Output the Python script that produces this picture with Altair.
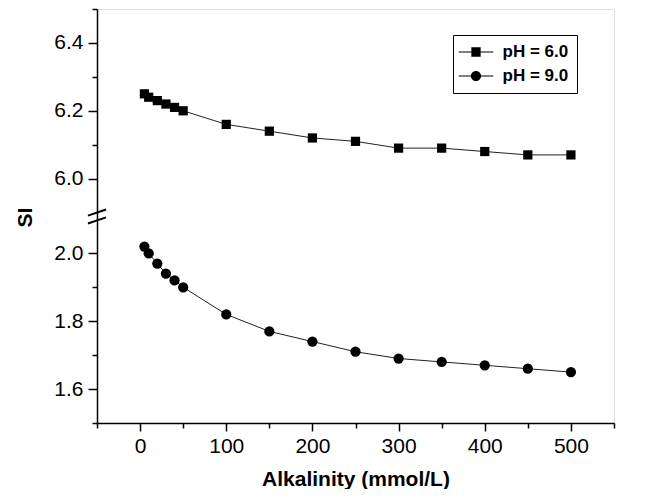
import altair as alt
import pandas as pd

# ---- data ----
alkalinity = [5, 10, 20, 30, 40, 50, 100, 150, 200, 250, 300, 350, 400, 450, 500]
si_ph6 = [6.25, 6.24, 6.23, 6.22, 6.21, 6.20, 6.16, 6.14, 6.12, 6.11, 6.09, 6.09, 6.08, 6.07, 6.07]
si_ph9 = [2.02, 2.00, 1.97, 1.94, 1.92, 1.90, 1.82, 1.77, 1.74, 1.71, 1.69, 1.68, 1.67, 1.66, 1.65]
series_names = ["pH = 6.0", "pH = 9.0"]

# broken axis: upper segment 5.9–6.5 is shifted down to sit just above 1.5–2.1
SHIFT = 3.78
x_major = [0, 100, 200, 300, 400, 500]
x_minor = [-50, 50, 150, 250, 350, 450, 550]
y_major_lower = [1.6, 1.8, 2.0]
y_major_upper = [6.0, 6.2, 6.4]
y_minor_lower = [1.5, 1.7, 1.9]
y_minor_upper = [6.1, 6.3, 6.5]

y_major = y_major_lower + [round(v - SHIFT, 4) for v in y_major_upper]
y_minor = y_minor_lower + [round(v - SHIFT, 4) for v in y_minor_upper]

rows = []
for a, v in zip(alkalinity, si_ph6):
    rows.append({"alk": a, "SI": v, "series": series_names[0]})
for a, v in zip(alkalinity, si_ph9):
    rows.append({"alk": a, "SI": v, "series": series_names[1]})
df = pd.DataFrame(rows)

# break marks ("//") on the y axis, in data units
break_df = pd.DataFrame({
    "x1": [-60.5, -60.5], "x2": [-39.5, -39.5],
    "y1": [2.111, 2.088], "y2": [2.129, 2.106],
})

FONT = "Liberation Sans"
xscale = alt.Scale(domain=[-50, 550], nice=False, zero=False)
yscale = alt.Scale(domain=[1.5, 2.72], nice=False, zero=False)

label_expr = ("datum.value > 2.11 ? format(datum.value + %s, '.1f') : format(datum.value, '.1f')" % SHIFT)

x_major_axis = alt.Axis(orient="bottom", values=x_major, tickSize=8, tickWidth=1.5, domainWidth=1.5,
                        domainColor="black", tickColor="black", labelFont=FONT,
                        labelFontSize=21, labelColor="black", labelPadding=4,
                        grid=False, title="Alkalinity (mmol/L)", titleFont=FONT,
                        titleFontSize=21, titleFontWeight="bold", titleColor="black",
                        titleY=56, titleBaseline="middle", labelFlush=False)
y_major_axis = alt.Axis(orient="left", values=y_major, tickSize=9, tickWidth=1.5, domainWidth=1.5,
                        domainColor="black", tickColor="black", labelFont=FONT,
                        labelFontSize=21, labelColor="black", labelPadding=5,
                        labelExpr=label_expr, grid=False, title="SI", titleFont=FONT,
                        titleFontSize=21, titleFontWeight="bold", titleColor="black",
                        titleX=-72, titleY=208, titleBaseline="middle", titleAngle=270,
                        labelFlush=False)
x_minor_axis = alt.Axis(orient="bottom", values=x_minor, tickSize=5, tickWidth=1.5, domain=False,
                        tickColor="black", labels=False, grid=False, title=None)
y_minor_axis = alt.Axis(orient="left", values=y_minor, tickSize=5, tickWidth=1.5, domain=False,
                        tickColor="black", labels=False, grid=False, title=None)

base = alt.Chart(df).transform_calculate(
    yp="datum.SI > 4 ? datum.SI - %s : datum.SI" % SHIFT
)

line = base.mark_line(color="#222222", strokeWidth=1).encode(
    x=alt.X("alk:Q", scale=xscale, axis=x_major_axis),
    y=alt.Y("yp:Q", scale=yscale, axis=y_major_axis),
    detail="series:N",
)

points = base.mark_point(filled=True, opacity=1, color="black").encode(
    x=alt.X("alk:Q", scale=xscale, axis=None),
    y=alt.Y("yp:Q", scale=yscale, axis=None),
    shape=alt.Shape("series:N", scale=alt.Scale(domain=series_names, range=["square", "circle"]), legend=None),
    size=alt.Size("series:N", scale=alt.Scale(domain=series_names, range=[85, 105]), legend=None),
)

# legend symbols "—■—" / "—●—" built only from filled shapes
seg = "M-2.3,-0.07H-0.62V0.07H-2.3ZM0.62,-0.07H2.3V0.07H0.62Z"
sq_path = seg + "M-0.62,-0.62H0.62V0.62H-0.62Z"
ci_path = seg + "M0.68,0A0.68,0.68,0,1,1,-0.68,0A0.68,0.68,0,1,1,0.68,0Z"

legend_layer = base.mark_point(filled=True, opacity=0, color="black").encode(
    x=alt.X("alk:Q", scale=xscale, axis=x_minor_axis),
    y=alt.Y("yp:Q", scale=yscale, axis=y_minor_axis),
    shape=alt.Shape(
        "series:N",
        scale=alt.Scale(domain=series_names, range=[sq_path, ci_path]),
        legend=alt.Legend(
            title=None, orient="none", legendX=356, legendY=26,
            symbolSize=225, symbolFillColor="black", symbolStrokeColor="black",
            symbolStrokeWidth=0, symbolOpacity=1, symbolOffset=6,
            labelFont=FONT, labelFontSize=17, labelFontWeight="bold",
            labelColor="black", labelOffset=18, rowPadding=6, padding=8.5,
            strokeColor="black", fillColor="white",
        ),
    ),
)

breaks = alt.Chart(break_df).mark_rule(color="black", strokeWidth=2).encode(
    x=alt.X("x1:Q", scale=xscale, axis=None),
    x2="x2:Q",
    y=alt.Y("y1:Q", scale=yscale, axis=None),
    y2="y2:Q",
)

chart = alt.layer(line, points, legend_layer, breaks).resolve_scale(
    shape="independent", size="independent"
).resolve_axis(
    x="independent", y="independent"
).properties(
    width=517, height=414,
    padding={"left": 89, "top": 1, "right": 40, "bottom": 66},
    autosize=alt.AutoSizeParams(type="none"),
).configure_view(stroke=None).configure(background="white")

chart.save("out.html", embed_options={"renderer": "svg", "actions": False})
